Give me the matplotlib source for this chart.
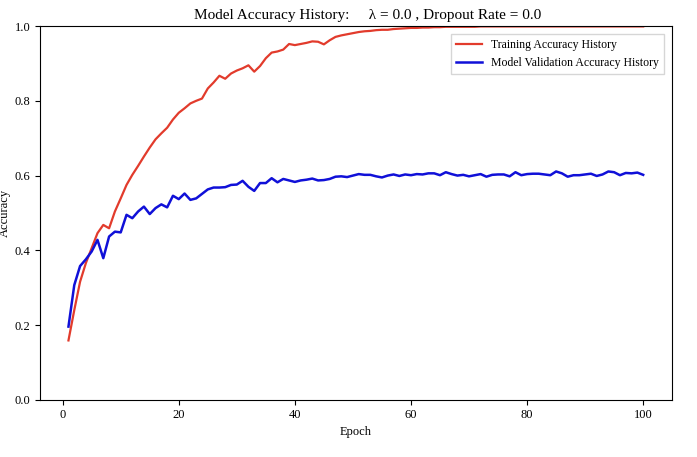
import matplotlib
matplotlib.use("Agg")
import matplotlib.pyplot as plt
import numpy as np

plt.rcParams['font.family'] = ['Liberation Serif', 'DejaVu Serif']

epochs = list(range(1, 101))
train_acc = [
    0.159, 0.240, 0.316, 0.366, 0.406, 0.446, 0.468, 0.459, 0.504, 0.539,
    0.575, 0.602, 0.626, 0.651, 0.675, 0.697, 0.713, 0.728, 0.750, 0.768,
    0.780, 0.793, 0.800, 0.806, 0.833, 0.849, 0.867, 0.859, 0.873, 0.881,
    0.887, 0.895, 0.878, 0.893, 0.914, 0.929, 0.932, 0.937, 0.952, 0.949,
    0.952, 0.955, 0.959, 0.958, 0.951, 0.962, 0.971, 0.975, 0.978, 0.981,
    0.984, 0.986, 0.987, 0.989, 0.990, 0.990, 0.992, 0.993, 0.994, 0.995,
    0.995, 0.996, 0.996, 0.997, 0.997, 0.998, 0.998, 0.998, 0.998, 0.998,
    0.998, 0.999, 0.999, 0.999, 0.999, 0.999, 0.999, 0.999, 0.999, 0.999,
    0.999, 0.999, 0.999, 0.999, 0.999, 0.999, 0.999, 0.999, 0.999, 0.999,
    0.999, 0.999, 0.999, 0.999, 0.999, 0.999, 0.999, 0.999, 0.999, 0.999,
]
val_acc = [
    0.196, 0.307, 0.358, 0.376, 0.397, 0.428, 0.379, 0.437, 0.450, 0.448,
    0.495, 0.486, 0.504, 0.517, 0.497, 0.513, 0.523, 0.515, 0.546, 0.537,
    0.552, 0.535, 0.539, 0.551, 0.563, 0.568, 0.568, 0.569, 0.575, 0.576,
    0.586, 0.570, 0.559, 0.580, 0.580, 0.593, 0.582, 0.591, 0.587, 0.583,
    0.587, 0.589, 0.592, 0.587, 0.588, 0.591, 0.597, 0.598, 0.596, 0.600,
    0.604, 0.602, 0.602, 0.598, 0.595, 0.600, 0.603, 0.599, 0.603, 0.601,
    0.604, 0.603, 0.606, 0.606, 0.601, 0.609, 0.604, 0.600, 0.602, 0.598,
    0.601, 0.604, 0.597, 0.602, 0.603, 0.603, 0.598, 0.609, 0.601, 0.604,
    0.605, 0.605, 0.603, 0.601, 0.611, 0.606, 0.597, 0.601, 0.601, 0.603,
    0.605, 0.599, 0.603, 0.611, 0.609, 0.601, 0.607, 0.606, 0.608, 0.602,
]

fig = plt.figure(figsize=(6.97, 4.57), dpi=100)
ax = fig.add_axes([0.057, 0.125, 0.907, 0.818])
ax.plot(epochs, train_acc, color='#e23b2c', lw=1.6, label='Training Accuracy History')
ax.plot(epochs, val_acc, color='#1010d8', lw=1.8, label='Model Validation Accuracy History')
ax.set_ylim(0, 1.0)
ax.set_yticks([0.0, 0.2, 0.4, 0.6, 0.8, 1.0])
ax.set_xticks([0, 20, 40, 60, 80, 100])
ax.tick_params(labelsize=9, pad=3)
ax.set_xlabel('Epoch', fontsize=9, labelpad=4)
ax.set_ylabel('Accuracy', fontsize=9, labelpad=3)
ax.set_title('Model Accuracy History:     \u03bb = 0.0 , Dropout Rate = 0.0',
             fontsize=11, pad=5, x=0.519)
ax.legend(loc='upper right', fontsize=8.5, fancybox=False, borderaxespad=0.7,
          handlelength=2.2)
fig.savefig('out.png', dpi=100)
